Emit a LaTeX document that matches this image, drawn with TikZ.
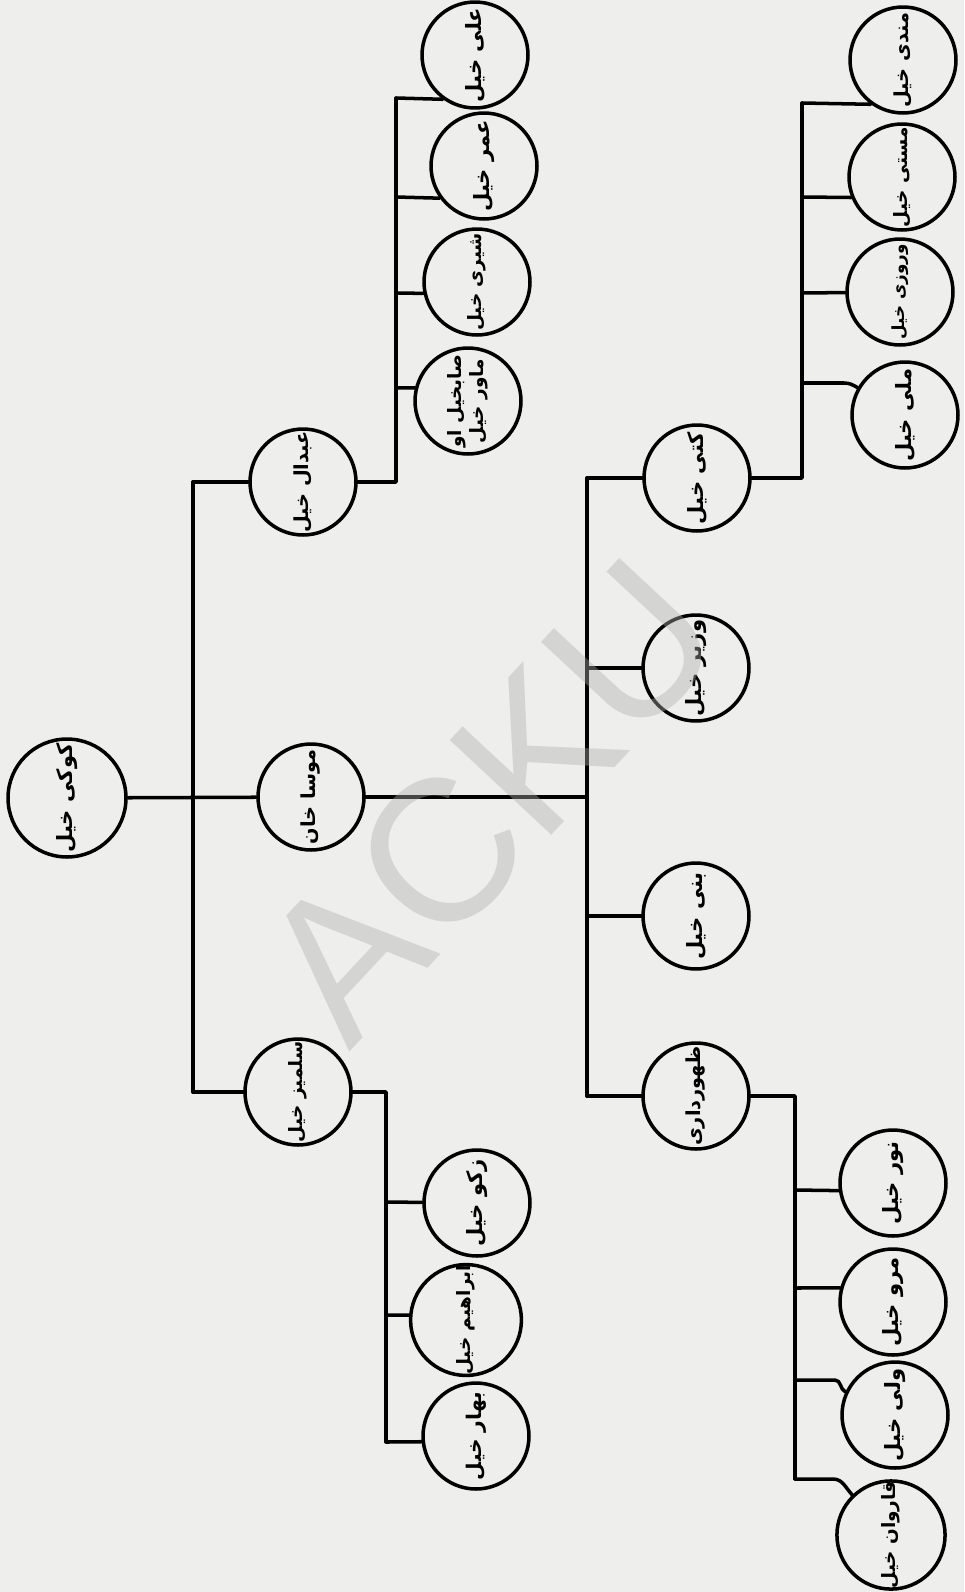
\documentclass[tikz,border=0pt]{standalone}
\usepackage{fontspec}
\usepackage{graphicx}
\newfontfamily\af[Script=Arabic]{DejaVu Sans}
\newfontfamily\wmfont{Liberation Sans}
\TeXXeTstate=1
\newcommand{\lbl}[2][12pt]{\rotatebox{90}{\fontsize{#1}{#1}\selectfont\af\bfseries\beginR #2\endR}}
\definecolor{paper}{RGB}{238,238,236}
\definecolor{wmgray}{RGB}{175,175,175}
\tikzset{
  tnode/.style={circle, draw, line width=2pt, minimum size=2.12cm, inner sep=0pt, fill=paper},
  rootnode/.style={tnode, minimum size=2.36cm},
  conn/.style={line width=2pt, line cap=round, line join=round},
}
\begin{document}
\begin{tikzpicture}[x=0.02cm,y=0.02cm]
\fill[paper] (0,0) rectangle (964,-1592);
\useasboundingbox (0,0) rectangle (964,-1592);

\coordinate (v1t) at (193,-482);
\coordinate (v1b) at (193,-1092);
\coordinate (a1) at (396,-482);
\coordinate (t1c) at (396,-98);
\coordinate (t2c) at (396,-197);
\coordinate (t3c) at (396,-293);
\coordinate (t4c) at (396,-388);
\coordinate (m1) at (587,-797);
\coordinate (mk) at (587,-478);
\coordinate (mw) at (587,-668);
\coordinate (mb) at (587,-916);
\coordinate (mz) at (587,-1096);
\coordinate (k0) at (802,-478);
\coordinate (n1c) at (802,-103);
\coordinate (n2c) at (802,-197);
\coordinate (n3c) at (802,-293);
\coordinate (n4c) at (802,-383);
\coordinate (z0) at (795,-1096);
\coordinate (z1c) at (795,-1190);
\coordinate (z2c) at (795,-1288);
\coordinate (z3c) at (795,-1380);
\coordinate (z4c) at (795,-1479);
\coordinate (s0) at (386,-1092);
\coordinate (s1c) at (386,-1202);
\coordinate (s2c) at (386,-1315);
\coordinate (s3c) at (386,-1442);

% nodes
\node[rootnode] (root) at (67,-798) {\lbl[12pt]{کوکی خیل}};
\node[tnode] (A) at (303,-482) {\lbl[11pt]{عبدال خیل}};
\node[tnode] (M) at (311,-797) {\lbl[11pt]{موسا خان}};
\node[tnode] (S) at (298,-1092) {\lbl[10.5pt]{سلمیز خیل}};

\node[tnode] (T1) at (475,-55) {\lbl[12pt]{علی خیل}};
\node[tnode] (T2) at (484,-166) {\lbl[12pt]{عمر خیل}};
\node[tnode] (T3) at (477,-282) {\lbl[10.5pt]{شیری خیل}};
\node[tnode] (T4) at (468,-401) {\rotatebox{90}{\fontsize{10.5pt}{12.5pt}\selectfont\af\bfseries
  \begin{tabular}{@{}c@{}}\beginR صابخیل او\endR\\\beginR ماور خیل\endR\end{tabular}}};

\node[tnode] (S1) at (477,-1203) {\lbl[12pt]{زکو خیل}};
\node[tnode] (S2) at (466,-1320) {\lbl[10.5pt]{ابراهیم خیل}};
\node[tnode] (S3) at (476,-1436) {\lbl[11.5pt]{بهار خیل}};

\node[tnode] (K) at (697,-478) {\lbl[12pt]{کتی خیل}};
\node[tnode] (W) at (696,-668) {\lbl[12pt]{وزیر خیل}};
\node[tnode] (B) at (696,-916) {\lbl[12pt]{بنی خیل}};
\node[tnode] (Z) at (696,-1096) {\lbl[11pt]{ظهورداری}};

\node[tnode] (N1) at (903,-60) {\lbl[11pt]{مندی خیل}};
\node[tnode] (N2) at (902,-177) {\lbl[10.5pt]{مستی خیل}};
\node[tnode] (N3) at (900,-292) {\lbl[9.5pt]{وروزی خیل}};
\node[tnode] (N4) at (905,-415) {\lbl[12pt]{ملی خیل}};

\node[tnode] (Z1) at (893,-1183) {\lbl[12pt]{نور خیل}};
\node[tnode] (Z2) at (893,-1302) {\lbl[12pt]{مرو خیل}};
\node[tnode] (Z3) at (895,-1415) {\lbl[12pt]{ولی خیل}};
\node[tnode] (Z4) at (891,-1535) {\lbl[10.5pt]{قاروان خیل}};

% edges
\draw[conn] (root) -- (M);
\draw[conn] (v1t) -- (v1b);
\draw[conn] (v1t) -- (A);
\draw[conn] (v1b) -- (S);

\draw[conn] (A) -- (a1) -- (t1c);
\draw[conn] (t1c) -- (T1.234);
\draw[conn] (t2c) -- (T2.216);
\draw[conn] (t3c) -- (T3.192);
\draw[conn] (t4c) -- (T4.166);

\draw[conn] (M) -- (m1);
\draw[conn] (mk) -- (mz);
\draw[conn] (mk) -- (K);
\draw[conn] (mw) -- (W);
\draw[conn] (mb) -- (B);
\draw[conn] (mz) -- (Z);

\draw[conn] (K) -- (k0) -- (n1c);
\draw[conn] (n1c) -- (N1.234);
\draw[conn] (n2c) -- (N2.202);
\draw[conn] (n3c) -- (N3);
\draw[conn] (n4c) -- ++(42,0) to[out=0,in=150] (N4.150);

\draw[conn] (Z) -- (z0) -- (z4c);
\draw[conn] (z1c) -- (Z1.188);
\draw[conn] (z2c) -- (Z2.165);
\draw[conn] (z3c) -- ++(40,0) to[out=0,in=155] (Z3.155);
\draw[conn] (z4c) -- ++(38,0) to[out=0,in=134] (Z4.134);

\draw[conn] (S) -- (s0) -- (s3c);
\draw[conn] (s1c) -- (S1);
\draw[conn] (s2c) -- (S2.175);
\draw[conn] (s3c) -- (S3.186);

% watermark
\node[text=wmgray, opacity=0.4, rotate=47, inner sep=0pt] (wm) at (490,-800)
  {\fontsize{115pt}{115pt}\selectfont\wmfont ACKU};
\end{tikzpicture}
\end{document}
